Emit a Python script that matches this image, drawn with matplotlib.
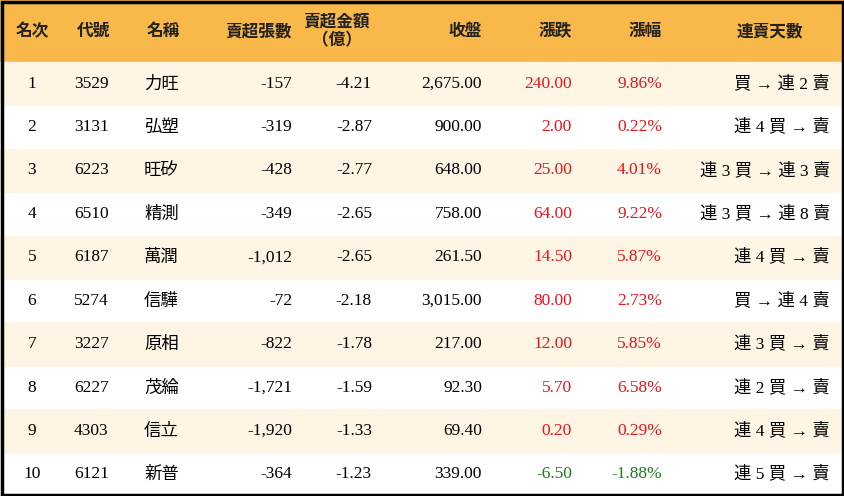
import matplotlib.pyplot as plt
from matplotlib.patches import Rectangle

rank = [str(i) for i in range(1, 11)]
codes = ["3529", "3131", "6223", "6510", "6187", "5274", "3227", "6227", "4303", "6121"]
names = ["力旺", "弘塑", "旺矽", "精測", "萬潤", "信驊", "原相", "茂綸", "信立", "新普"]
sell_lots = [-157, -319, -428, -349, -1012, -72, -822, -1721, -1920, -364]
sell_amt = [-4.21, -2.87, -2.77, -2.65, -2.65, -2.18, -1.78, -1.59, -1.33, -1.23]
close = [2675.00, 900.00, 648.00, 758.00, 261.50, 3015.00, 217.00, 92.30, 69.40, 339.00]
change = [240.00, 2.00, 25.00, 64.00, 14.50, 80.00, 12.00, 5.70, 0.20, -6.50]
pct = [9.86, 0.22, 4.01, 9.22, 5.87, 2.73, 5.85, 6.58, 0.29, -1.88]
streak = ["買 → 連 2 賣", "連 4 買 → 賣", "連 3 買 → 連 3 賣", "連 3 買 → 連 8 賣",
          "連 4 買 → 賣", "買 → 連 4 賣", "連 3 買 → 賣", "連 2 買 → 賣",
          "連 4 買 → 賣", "連 5 買 → 賣"]
headers = ["名次", "代號", "名稱", "賣超張數", "賣超金額\n（億）", "收盤", "漲跌", "漲幅", "連賣天數"]

W, H = 844, 496
fig = plt.figure(figsize=(W / 100, H / 100), dpi=100)
ax = fig.add_axes([0, 0, 1, 1])
ax.set_xlim(0, W)
ax.set_ylim(H, 0)
ax.axis("off")

fonts = ["Liberation Serif", "Noto Sans CJK TC", "Noto Sans CJK JP", "Noto Sans CJK SC"]
cjk = ["Noto Sans CJK TC", "Noto Sans CJK JP", "Noto Sans CJK SC"]
hdr_h = 62
row_h = (H - hdr_h) / 10

ax.add_patch(Rectangle((0, 0), W, hdr_h, color="#F8B84A"))
for i in range(10):
    if i % 2 == 0:
        ax.add_patch(Rectangle((0, hdr_h + i * row_h), W, row_h, color="#FEF5E4"))
ax.add_patch(Rectangle((1.5, 1.5), W - 3, H - 3, fill=False, ec="black", lw=2.5))

# (x, ha) for each column
hx = [(32, "center"), (93, "center"), (163, "center"), (292, "right"), (370, "right"),
      (482, "right"), (572, "right"), (662, "right"), (770, "center")]
for (x, ha), h in zip(hx, headers):
    ax.text(x, hdr_h / 2, h, ha=ha, va="center", fontsize=12, fontweight="bold",
            family=cjk, color="#222222", linespacing=1.0, multialignment="center")

cx = [(32, "center"), (74, "left"), (144, "left"), (292, "right"), (372, "right"),
      (482, "right"), (572, "right"), (662, "right"), (830, "right")]
for i in range(10):
    y = hdr_h + (i + 0.5) * row_h
    col = "#E8141E" if change[i] > 0 else "#1E7A1E"
    vals = [rank[i], codes[i], names[i], f"{sell_lots[i]:,}", f"{sell_amt[i]:.2f}",
            f"{close[i]:,.2f}", f"{change[i]:.2f}", f"{pct[i]:.2f}%", streak[i]]
    for j, ((x, ha), v) in enumerate(zip(cx, vals)):
        c = col if j in (6, 7) else "black"
        fam = cjk if j == 2 else fonts
        ax.text(x, y, v, ha=ha, va="center", fontsize=12.5, family=fam, color=c)

fig.savefig("out.png", dpi=100)
